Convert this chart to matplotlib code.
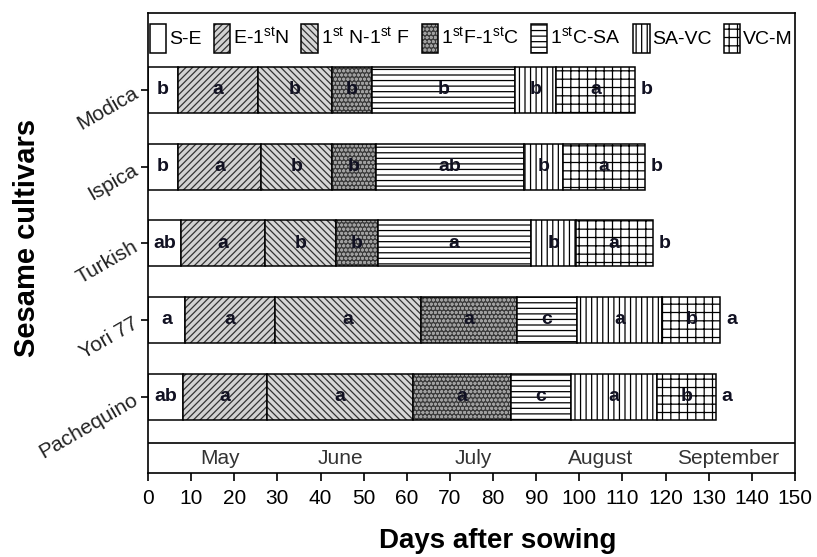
import matplotlib
matplotlib.use("Agg")
import matplotlib.pyplot as plt
from matplotlib.legend_handler import HandlerTuple
import numpy as np

plt.rcParams.update({
    "font.family": ["Liberation Sans", "DejaVu Sans"],
    "mathtext.fontset": "custom",
    "mathtext.rm": "Liberation Sans",
    "mathtext.it": "Liberation Sans",
    "mathtext.default": "regular",
    "hatch.linewidth": 0.9,
})

# ---------------- data (bottom to top) ----------------
cultivars = ["Pachequino", "Yori 77", "Turkish", "Ispica", "Modica"]
phase_labels = ["S-E", r"E-1$^{st}$N", r"1$^{st}$ N-1$^{st}$ F", r"1$^{st}$F-1$^{st}$C",
                r"1$^{st}$C-SA", "SA-VC", "VC-M"]

# phase durations (days)
dur_SE    = [8.1, 8.6, 7.7, 6.9, 6.9]
dur_EN    = [19.4, 20.8, 19.4, 19.3, 18.7]
dur_NF    = [34.0, 34.0, 16.4, 16.4, 17.0]
dur_FC    = [22.7, 22.1, 9.8, 10.3, 9.4]
dur_CSA   = [13.8, 13.9, 35.4, 34.2, 33.0]
dur_SAVC  = [19.9, 19.8, 10.5, 9.1, 9.6]
dur_VCM   = [13.8, 13.5, 17.8, 19.0, 18.4]

# significance letters
let_SE    = ["ab", "a", "ab", "b", "b"]
let_EN    = ["a", "a", "a", "a", "a"]
let_NF    = ["a", "a", "b", "b", "b"]
let_FC    = ["a", "a", "b", "b", "b"]
let_CSA   = ["c", "c", "a", "ab", "b"]
let_SAVC  = ["a", "a", "b", "b", "b"]
let_VCM   = ["b", "b", "a", "a", "a"]
let_total = ["a", "a", "b", "b", "b"]

months = ["May", "June", "July", "August", "September"]
month_centers = [16.7, 44.5, 75.4, 104.9, 134.6]

x_ticks = list(range(0, 151, 10))

durations = [dur_SE, dur_EN, dur_NF, dur_FC, dur_CSA, dur_SAVC, dur_VCM]
letters = [let_SE, let_EN, let_NF, let_FC, let_CSA, let_SAVC, let_VCM]

# styles
facecolors = ["white", "#d2d2d2", "#d6d6d6", "#3c3c3c", "white", "white", "white"]
hatchcolors = ["black", "#333333", "#333333", "#a0a0a0", "black", "black", "black"]
hatches = [None, "/////", "\\\\\\\\\\", "oooo", "---", "|||", "++"]

fig = plt.figure(figsize=(8.17, 5.57), dpi=100)
ax = fig.add_axes([148 / 817, 1 - 473.3 / 557, 647 / 817, 460 / 557])

y = np.arange(len(cultivars))
left = np.zeros(len(cultivars))
handles = []
for k, (d, lt) in enumerate(zip(durations, letters)):
    d = np.array(d)
    fill = ax.barh(y, d, left=left, height=0.6, color=facecolors[k],
                   edgecolor=hatchcolors[k], hatch=hatches[k], linewidth=0)
    outline = ax.barh(y, d, left=left, height=0.6, fill=False,
                      edgecolor="black", linewidth=1.1)
    handles.append((fill.patches[0], outline.patches[0]))
    for i in range(len(y)):
        ax.text(left[i] + d[i] / 2, y[i], lt[i], ha="center", va="center",
                fontsize=14, fontweight="bold", color="#111122")
    left = left + d

for i in range(len(y)):
    ax.annotate(let_total[i], xy=(left[i], y[i]), xytext=(4, 0),
                textcoords="offset points", ha="left", va="center",
                fontsize=14, fontweight="bold", color="#111122")

# month band
ax.axhline(-0.6, color="black", lw=1.2)
for m, c in zip(months, month_centers):
    ax.text(c, -0.81, m, ha="center", va="center", fontsize=15, color="#333333")

ax.set_xlim(0, 150)
ax.set_ylim(-1.0, 5.0)
ax.set_xticks(x_ticks)
ax.set_xticklabels([str(t) for t in x_ticks], fontsize=15)
ax.set_yticks(y)
ax.set_yticklabels(cultivars, rotation=30, ha="right", rotation_mode="anchor",
                   fontsize=15, color="#222222")
ax.tick_params(axis="x", direction="out", length=6, width=1.2, pad=5)
ax.tick_params(axis="y", direction="out", length=5, width=1.2, pad=4)
for s in ax.spines.values():
    s.set_linewidth(1.2)

ax.legend(handles=handles, labels=phase_labels, ncol=7, loc="center",
          handler_map={tuple: HandlerTuple(ndivide=1, pad=0)},
          bbox_to_anchor=(0.003, 0.906, 0.994, 0.08), mode="expand",
          frameon=False, fontsize=14, handlelength=0.85, handleheight=1.9,
          handletextpad=0.15, columnspacing=0.05, borderaxespad=0, borderpad=0)

fig.text(27 / 817, 1 - 238 / 557, "Sesame cultivars", rotation=90,
         ha="center", va="center", fontsize=21, fontweight="bold")
fig.text(498 / 817, 1 - 541 / 557, "Days after sowing", ha="center",
         va="center", fontsize=20, fontweight="bold")

fig.savefig("out.png", dpi=100)
